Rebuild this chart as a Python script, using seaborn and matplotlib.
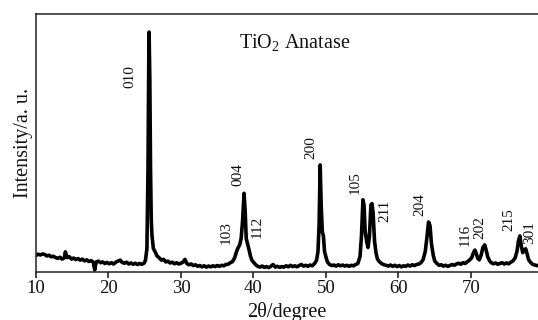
import matplotlib
matplotlib.use("Agg")
import matplotlib.pyplot as plt
import seaborn as sns
import pandas as pd

# XRD pattern of TiO2 anatase: diffraction angle (2θ, degrees) and intensity (a.u.)
two_theta = [
    10.0, 10.3, 10.6, 10.9, 11.2, 11.5, 11.8, 12.1, 12.4, 12.7,
    13.0, 13.3, 13.6, 13.9, 14.05, 14.3, 14.6, 14.9, 15.2, 15.5,
    15.8, 16.1, 16.4, 16.7, 17.0, 17.3, 17.6, 17.9, 18.1, 18.3,
    18.6, 18.9, 19.2, 19.5, 19.8, 20.1, 20.4, 20.7, 21.0, 21.3,
    21.6, 21.9, 22.2, 22.5, 22.8, 23.1, 23.4, 23.7, 24.0, 24.3,
    24.6, 24.9, 25.1, 25.3, 25.45, 25.55, 25.6, 25.7, 25.8, 25.9,
    26.0, 26.2, 26.4, 26.7, 27.0, 27.3, 27.6, 27.9, 28.2, 28.5,
    28.8, 29.1, 29.4, 29.7, 30.0, 30.3, 30.55, 30.8, 31.1, 31.4,
    31.7, 32.0, 32.3, 32.6, 32.9, 33.2, 33.5, 33.8, 34.1, 34.4,
    34.7, 35.0, 35.3, 35.6, 35.9, 36.2, 36.5, 36.8, 37.1, 37.4,
    37.7, 37.9, 38.1, 38.3, 38.5, 38.7, 38.85, 39.0, 39.2, 39.4,
    39.6, 39.8, 40.0, 40.3, 40.6, 40.9, 41.2, 41.5, 41.8, 42.1,
    42.4, 42.7, 43.0, 43.3, 43.6, 43.9, 44.2, 44.5, 44.8, 45.1,
    45.4, 45.7, 46.0, 46.3, 46.6, 46.9, 47.2, 47.5, 47.8, 48.1,
    48.4, 48.7, 48.9, 49.05, 49.2, 49.35, 49.5, 49.65, 49.8, 50.0,
    50.2, 50.5, 50.8, 51.1, 51.4, 51.7, 52.0, 52.3, 52.6, 52.9,
    53.2, 53.5, 53.8, 54.1, 54.4, 54.7, 54.9, 55.1, 55.25, 55.4,
    55.6, 55.8, 56.0, 56.2, 56.35, 56.5, 56.7, 56.9, 57.1, 57.4,
    57.7, 58.0, 58.3, 58.6, 58.9, 59.2, 59.5, 59.8, 60.1, 60.4,
    60.7, 61.0, 61.3, 61.6, 61.9, 62.2, 62.5, 62.8, 63.1, 63.4,
    63.7, 63.95, 64.15, 64.35, 64.55, 64.8, 65.0, 65.3, 65.6, 65.9,
    66.2, 66.5, 66.8, 67.1, 67.4, 67.7, 68.0, 68.3, 68.6, 68.9,
    69.2, 69.5, 69.8, 70.1, 70.35, 70.55, 70.75, 70.95, 71.15, 71.4,
    71.65, 71.9, 72.1, 72.3, 72.55, 72.8, 73.1, 73.4, 73.7, 74.0,
    74.3, 74.6, 74.9, 75.2, 75.5, 75.8, 76.1, 76.35, 76.55, 76.75,
    76.95, 77.15, 77.35, 77.55, 77.75, 77.95, 78.2, 78.5, 78.8, 79.1,
    79.3,
]
intensity = [
    6.4, 6.9, 6.6, 7.0, 6.8, 6.2, 6.5, 5.9, 6.1, 5.6,
    5.3, 5.7, 5.0, 5.5, 7.8, 5.6, 5.9, 5.0, 5.4, 4.8,
    5.2, 4.6, 5.0, 4.3, 4.7, 4.1, 4.4, 3.8, 0.8, 3.9,
    4.2, 3.6, 3.9, 3.3, 3.7, 3.2, 3.6, 3.1, 3.8, 4.2,
    4.6, 3.7, 3.4, 3.8, 3.1, 3.5, 3.0, 3.4, 2.9, 3.3,
    3.0, 3.4, 4.5, 9.0, 40.0, 80.0, 93.0, 75.0, 40.0, 20.0,
    14.0, 9.0, 8.0, 6.2, 5.5, 4.6, 4.9, 3.9, 4.2, 3.5,
    3.8, 3.2, 3.6, 3.1, 3.4, 3.9, 4.9, 3.3, 2.8, 3.1,
    2.5, 2.8, 2.2, 2.5, 2.0, 2.4, 1.9, 2.3, 2.0, 2.4,
    2.1, 2.5, 2.2, 2.6, 2.4, 2.9, 3.0, 3.6, 4.0, 5.5,
    8.2, 9.5, 10.5, 13.0, 20.0, 30.5, 24.0, 13.0, 10.8, 8.5,
    6.0, 4.5, 3.8, 2.8, 2.2, 1.9, 2.3, 1.8, 2.1, 1.7,
    2.2, 2.9, 1.9, 2.2, 1.8, 2.1, 1.9, 2.4, 2.0, 2.6,
    2.1, 2.4, 2.0, 2.5, 2.9, 2.3, 2.6, 2.2, 2.7, 2.4,
    3.2, 4.5, 8.0, 18.0, 41.5, 25.0, 15.5, 14.0, 8.0, 5.8,
    3.9, 2.9, 2.5, 2.7, 2.3, 2.8, 2.4, 2.7, 2.3, 2.6,
    2.2, 2.6, 2.4, 2.9, 3.3, 6.0, 14.0, 28.0, 26.0, 16.0,
    12.0, 9.5, 14.0, 26.0, 26.5, 23.0, 12.0, 7.5, 5.0, 3.9,
    3.2, 2.8, 2.6, 2.3, 2.7, 2.2, 2.6, 2.1, 2.5, 2.0,
    2.4, 2.2, 2.7, 2.3, 2.8, 2.5, 2.9, 3.1, 3.6, 4.8,
    8.0, 14.0, 19.4, 18.0, 11.0, 6.5, 4.3, 3.3, 2.6, 2.8,
    2.3, 2.6, 2.2, 2.5, 2.9, 2.6, 3.1, 3.4, 3.0, 3.6,
    3.3, 4.0, 4.6, 5.5, 7.5, 8.5, 7.0, 5.2, 4.7, 6.5,
    9.5, 10.5, 8.5, 6.0, 4.4, 3.6, 3.2, 3.5, 3.0, 3.3,
    3.6, 3.1, 3.5, 3.2, 3.8, 4.3, 5.5, 8.0, 12.0, 14.0,
    10.0, 7.5, 8.5, 9.0, 7.0, 4.8, 3.8, 3.0, 2.7, 2.5,
    2.4,
]

# Miller-index labels and where they sit (2θ, intensity)
peak_labels = ["010", "103", "004", "112", "200", "105", "211", "204",
               "116", "202", "215", "301"]
label_x = [22.97, 36.2, 37.86, 40.5, 47.9, 54.0, 58.1, 63.0,
           69.2, 71.2, 75.2, 78.1]
label_y = [75.6, 15.1, 37.6, 17.4, 48.4, 34.5, 23.6, 26.0,
           14.3, 17.1, 20.2, 15.1]

x_ticks = [10, 20, 30, 40, 50, 60, 70]

sns.set_style("ticks")
serif = ["Liberation Serif", "DejaVu Serif"]
plt.rcParams["font.family"] = serif
plt.rcParams["mathtext.fontset"] = "custom"
plt.rcParams["mathtext.rm"] = "Liberation Serif"
plt.rcParams["mathtext.it"] = "Liberation Serif:italic"

df = pd.DataFrame({"two_theta": two_theta, "intensity": intensity})

fig = plt.figure(figsize=(5.38, 3.2), dpi=100)
ax = fig.add_axes([36 / 538, 48 / 320, 502 / 538, 258 / 320])

sns.lineplot(data=df, x="two_theta", y="intensity", ax=ax, color="black",
             linewidth=2.6, estimator=None, sort=False)

for lab, lx, ly in zip(peak_labels, label_x, label_y):
    ax.text(lx, ly, lab, rotation=90, ha="center", va="center",
            fontsize=11, color="#111111")

ax.text(45.7, 89.0, r"TiO$_\mathregular{2}$ Anatase", ha="center", va="center",
        fontsize=14.5, color="#111111")

ax.set_xlim(10, 79.25)
ax.set_ylim(0, 100)
ax.set_xticks(x_ticks)
ax.set_yticks([])
ax.tick_params(axis="x", direction="out", length=4, width=1.1,
               labelsize=13.5, pad=2, colors="#111111")

for side in ("left", "top", "bottom"):
    ax.spines[side].set_visible(True)
    ax.spines[side].set_linewidth(1.1)
    ax.spines[side].set_color("#222222")
ax.spines["right"].set_visible(False)

ax.set_xlabel("2θ/degree", fontsize=14.5, labelpad=3, color="#111111")
ax.set_ylabel("Intensity/a. u.", fontsize=14.5, labelpad=2, color="#111111")

fig.savefig("out.png", dpi=100)
